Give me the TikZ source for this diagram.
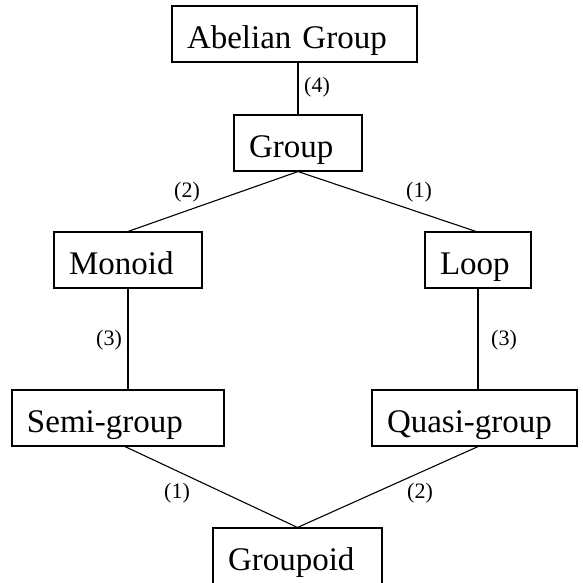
\documentclass[tikz,border=0pt]{standalone}
\usepackage{fontspec}
\setmainfont{Liberation Serif}
\usepackage{tikz}

% class boxes: text sits at the left, extra room on the right
\tikzset{
  algbox/.style={draw, line width=1.1pt, inner xsep=15pt, inner ysep=0pt,
    minimum height=56pt, align=left, text height=30pt, text depth=2pt,
    font=\fontsize{33}{38}\selectfont},
  link/.style={line width=1.1pt},
  tag/.style={inner sep=0pt, font=\fontsize{22}{25}\selectfont}
}

\begin{document}
\begin{tikzpicture}[x=1pt,y=1pt,yscale=-1]
\useasboundingbox (0,0) rectangle (583,582);

% boxes
\node [algbox, text width=215pt] (abelian) at (294.5,34) {Abelian Group};
\node [algbox, text width=98pt]  (group)   at (298,143)  {Group};
\node [algbox, text width=118pt] (monoid)  at (128,260)  {Monoid};
\node [algbox, text width=76pt]  (loop)    at (478,260)  {Loop};
\node [algbox, text width=182pt] (semi)    at (118,418)  {Semi-group};
\node [algbox, text width=175pt] (quasi)   at (474.5,418) {Quasi-group};
\node [algbox, text width=139pt] (groupoid) at (297.5,556) {Groupoid};

% links
\draw [link] (group.north) -- (group.north |- abelian.south);
\draw [link] (group.south) -- (monoid.north);
\draw [link] (group.south) -- ([xshift=-2pt]loop.north);
\draw [link] (monoid.south) -- (monoid.south |- semi.north);
\draw [link] (loop.south) -- (loop.south |- quasi.north);
\draw [link] ([xshift=7pt]semi.south) -- (groupoid.north);
\draw [link] (quasi.south -| loop.south) -- (groupoid.north);

% link labels
\node [tag] (t4)  at (317,87)  {(4)};
\node [tag] (t2a) at (187,192) {(2)};
\node [tag] (t1a) at (419,192) {(1)};
\node [tag] (t3a) at (109,340) {(3)};
\node [tag] (t3b) at (504,340) {(3)};
\node [tag] (t1b) at (177,493) {(1)};
\node [tag] (t2b) at (420,493) {(2)};

\end{tikzpicture}
\end{document}
